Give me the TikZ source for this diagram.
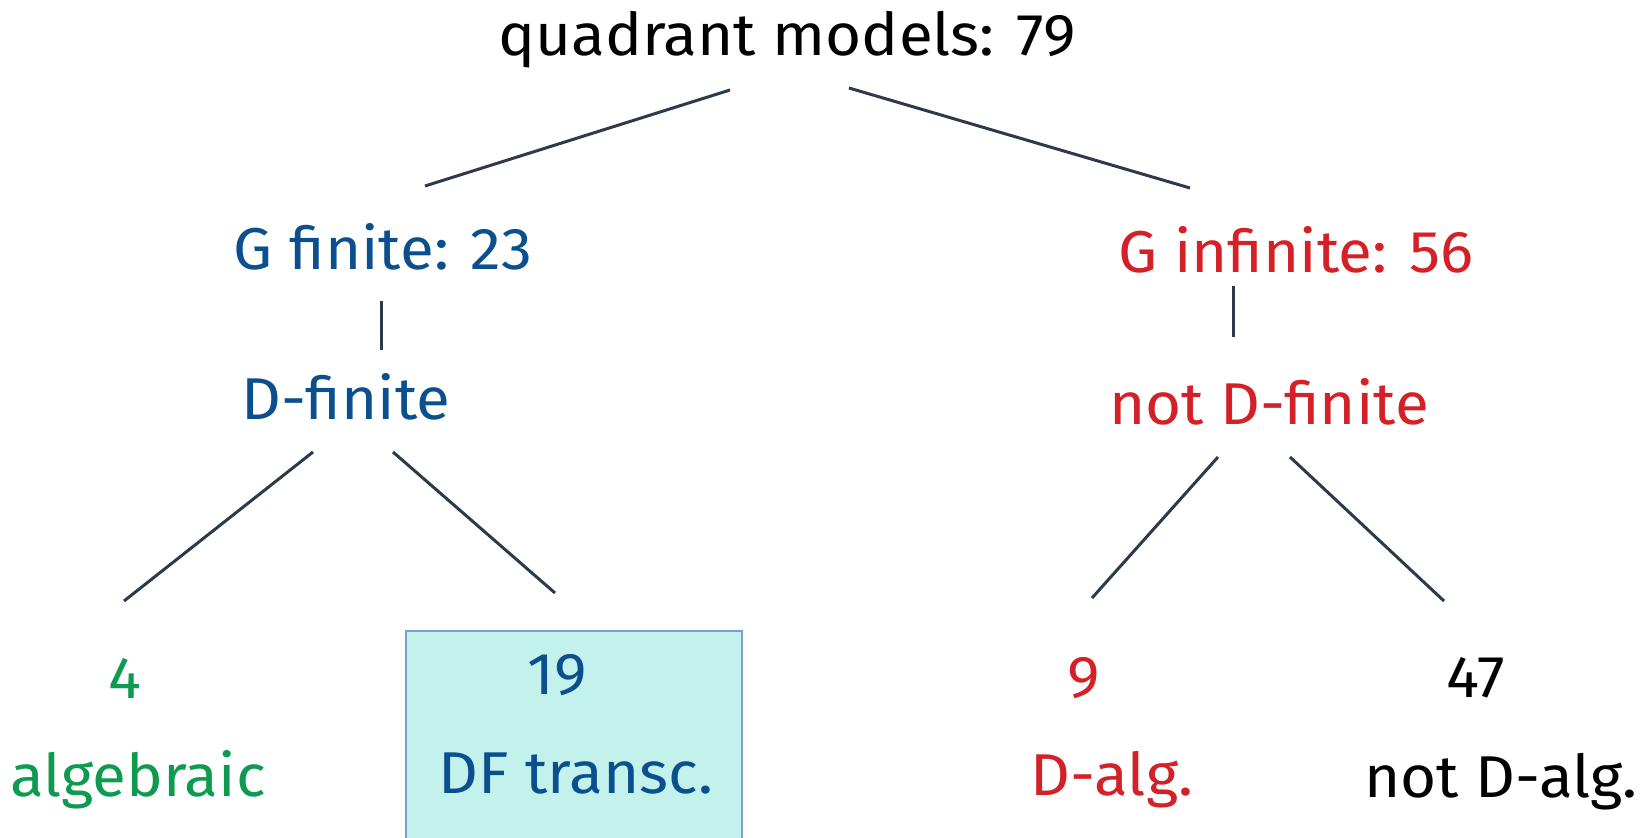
\documentclass[tikz,border=0pt]{standalone}
\usepackage{fontspec}
\setmainfont[FakeStretch=1.05]{Fira Sans}
\definecolor{cblue}{HTML}{0B4F8F}
\definecolor{cred}{HTML}{D42027}
\definecolor{cgreen}{HTML}{0E9A50}
\definecolor{cline}{HTML}{2D3A4A}
\definecolor{cfill}{HTML}{C3F2EC}
\definecolor{cborder}{HTML}{7AA0D0}
\begin{document}
\begin{tikzpicture}[x=1pt,y=-1pt,
  lbl/.style={inner sep=0pt,anchor=center,font=\fontsize{59}{70}\selectfont},
  conn/.style={draw=cline,line width=3pt}]
\useasboundingbox (0,0) rectangle (1647,838);
\fill[cfill,draw=cborder,line width=1.2pt] (406,631) rectangle (742,850);
\node[lbl] (root) at (787,40) {quadrant models: 79};
\node[lbl,text=cblue] (gf) at (383,247) {G finite: 23};
\node[lbl,text=cred] (gi) at (1296,250) {G infinite: 56};
\node[lbl,text=cblue] (df) at (346,397) {D-finite};
\node[lbl,text=cred] (ndf) at (1269,402) {not D-finite};
\node[lbl,text=cgreen] (n4) at (125,678) {4};
\node[lbl,text=cgreen] (alg) at (138,780) {algebraic};
\node[lbl,text=cblue] (n19) at (557,675) {19};
\node[lbl,text=cblue] (dft) at (576,774) {DF transc.};
\node[lbl,text=cred] (n9) at (1084,678) {9};
\node[lbl,text=cred] (dalg) at (1112,780) {D-alg.};
\node[lbl] (n47) at (1476,678) {47};
\node[lbl] (ndalg) at (1501,782) {not D-alg.};
\coordinate (a1) at (730,90);  \coordinate (a2) at (425,186);
\coordinate (b1) at (849,88);  \coordinate (b2) at (1190,188);
\coordinate (c1) at (381,301); \coordinate (c2) at (381,350);
\coordinate (d1) at (1233,286); \coordinate (d2) at (1233,337);
\coordinate (e1) at (313,452); \coordinate (e2) at (124,601);
\coordinate (f1) at (393,452); \coordinate (f2) at (555,593);
\coordinate (g1) at (1218,457); \coordinate (g2) at (1092,598);
\coordinate (h1) at (1290,457); \coordinate (h2) at (1444,601);
\draw[conn] (a1) -- (a2);
\draw[conn] (b1) -- (b2);
\draw[conn] (c1) -- (c2);
\draw[conn] (d1) -- (d2);
\draw[conn] (e1) -- (e2);
\draw[conn] (f1) -- (f2);
\draw[conn] (g1) -- (g2);
\draw[conn] (h1) -- (h2);
\end{tikzpicture}
\end{document}
